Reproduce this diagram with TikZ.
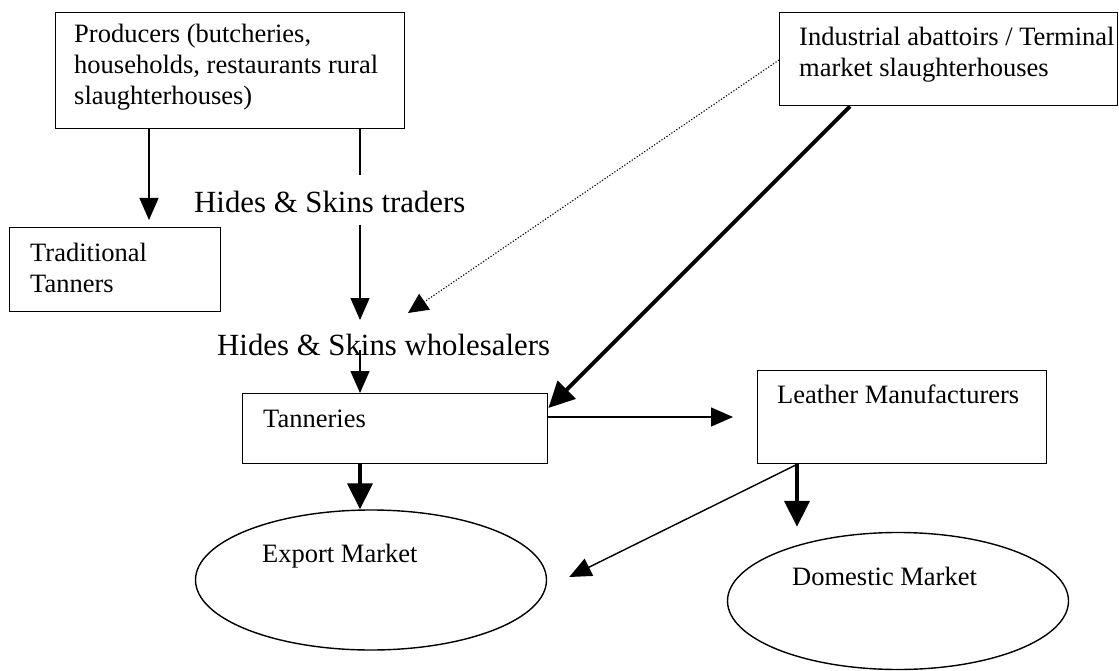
\documentclass[tikz,border=0pt]{standalone}
\usepackage{fontspec}
\setmainfont{Liberation Serif}
\usetikzlibrary{arrows.meta,shapes.geometric,calc}
\begin{document}
\begin{tikzpicture}[x=1pt,y=-1pt,
  box/.style={draw,line width=1.4pt,inner sep=0pt,anchor=north west},
  oval/.style={draw,ellipse,line width=1.4pt,inner sep=0pt},
  lbl/.style={font=\fontsize{26.5}{31}\selectfont,anchor=base west,inner sep=0pt,align=left},
  biglbl/.style={font=\fontsize{30.8}{35}\selectfont,anchor=base west,inner sep=0pt},
  thinline/.style={line width=1.4pt},
  thinarrow/.style={line width=1.4pt,-{Triangle[length=22pt,width=19pt]}},
  thickarrow/.style={line width=4pt,-{Triangle[length=26pt,width=25pt]}},
  dotarrow/.style={line width=1.1pt,dash pattern=on 1.2pt off 1.8pt,-{Triangle[length=20pt,width=19pt]}}
]
\useasboundingbox (0,0) rectangle (1119,671);
\fill[white] (0,0) rectangle (1119,671);

% boxes
\node[box,minimum width=349pt,minimum height=116pt] (prod) at (55,12) {};
\node[box,minimum width=211pt,minimum height=84pt] (trad) at (9,227) {};
\node[box,minimum width=338pt,minimum height=93pt] (ind) at (779,12) {};
\node[box,minimum width=305pt,minimum height=70pt] (tan) at (242,393) {};
\node[box,minimum width=289pt,minimum height=93pt] (lea) at (757,370) {};
\node[oval,minimum width=351pt,minimum height=140pt] (exp) at (371,580) {};
\node[oval,minimum width=341pt,minimum height=137pt] (dom) at (898,601) {};

% texts (base anchor = baseline of last line)
\node[lbl] (prodt) at (74,105) {Producers (butcheries,\\households, restaurants rural\\slaughterhouses)};
\node[lbl] (tradt) at (30,292) {Traditional\\Tanners};
\node[lbl] (indt) at (799,77) {Industrial abattoirs / Terminal\\market slaughterhouses};
\node[lbl] (tant) at (263,427) {Tanneries};
\node[lbl] (leat) at (777,403) {Leather Manufacturers};
\node[lbl] (expt) at (262,562) {Export Market};
\node[lbl] (domt) at (792,585) {Domestic Market};
\node[biglbl] (traders) at (194,213) {Hides \& Skins traders};
\node[biglbl] (whole) at (217,355) {Hides \& Skins wholesalers};

% free ends
\coordinate (t1) at (360,175);
\coordinate (t2) at (360,225);
\coordinate (t3) at (360,320);
\coordinate (w1) at (360,350);
\coordinate (d1) at (408,313);

% connectors
\draw[thinarrow] ($(prod.south west)+(94,0)$) -- ($(trad.north west)+(140,-7)$);
\draw[thinline] ($(prod.south west)+(305,0)$) -- (t1);
\draw[thinarrow] (t2) -- (t3);
\draw[thinarrow] (w1) -- ($(tan.north west)+(118,0)$);
\draw[thickarrow] ($(tan.south west)+(118,0)$) -- ($(exp.north)+(-11,0)$);
\draw[thickarrow] ($(ind.south west)+(71,0)$) -- ($(tan.north east)+(0,15)$);
\draw[dotarrow] ($(ind.north west)+(0,48)$) -- (d1);
\draw[thinarrow] ($(tan.north east)+(0,24)$) -- ($(lea.north west)+(-24,47)$);
\draw[thickarrow] ($(lea.south west)+(40,0)$) -- ($(dom.north)+(-101,-5)$);
\draw[thinarrow] ($(lea.south west)+(40,0)$) -- ($(exp.east)+(22,-3)$);
\end{tikzpicture}
\end{document}
